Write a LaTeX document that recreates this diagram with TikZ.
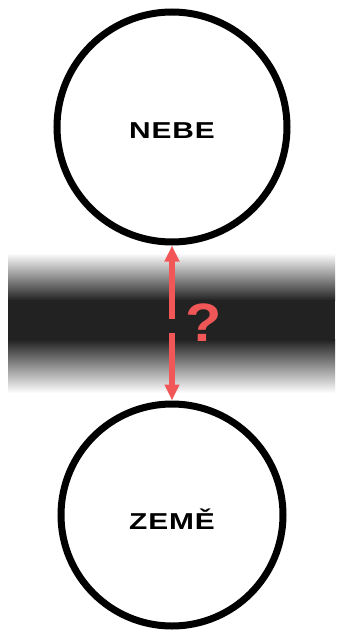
\documentclass[tikz,border=0pt]{standalone}
\usepackage{fontspec}
\usepackage{tikz}
\usetikzlibrary{arrows.meta, positioning}

\newfontfamily\labelfont{Liberation Sans}[FakeStretch=1.3, LetterSpace=4]
\newfontfamily\markfont{Liberation Sans}[FakeStretch=1.1]
\definecolor{qred}{HTML}{F25757}
\definecolor{bandgray}{HTML}{222222}

\begin{document}
\begin{tikzpicture}[
        x=1pt, y=-1pt,            % one unit = one pixel, y downwards
        world/.style={            % the two big circles
            circle,
            draw=black,
            line width=7pt,
            fill=white,
            inner sep=0pt
        },
        worldtext/.style={        % labels inside the circles
            font=\labelfont\bfseries\fontsize{23}{27}\selectfont,
            anchor=base
        },
        qarrow/.style={           % red arrow halves
            draw=qred,
            line width=6pt,
            -{Triangle[length=16pt, width=14pt]}
        },
        qmark/.style={            % the question mark
            font=\markfont\bfseries\fontsize{54}{60}\selectfont,
            text=qred,
            inner sep=0pt
        }
    ]

    \useasboundingbox (0,0) rectangle (337,631);
    \fill[white] (0,0) rectangle (337,631);

    % --- Dark band ---
    \shade[top color=white, bottom color=bandgray] (8,253) rectangle (335,300.5);
    \fill[bandgray] (8,300) rectangle (335,340);
    \shade[top color=bandgray, bottom color=white] (8,339.5) rectangle (335,393);

    % --- Circles ---
    \node[world, minimum size=230pt] (nebe) at (172,127) {};
    \node[world, minimum size=222pt] (zeme) at (172,515) {};

    \node[worldtext] (nebetext) at ([yshift=-12pt]nebe.center) {NEBE};
    \node[worldtext] (zemetext) at ([yshift=-14pt]zeme.center) {ZEMĚ};

    % --- Arrow with a gap ---
    \coordinate (gaptop) at (172,319);
    \coordinate (gapbot) at (172,333);
    \draw[qarrow] (gaptop) -- (nebe.south);
    \draw[qarrow] (gapbot) -- (zeme.north);

    \node[qmark] (question) at (204,323) {?};

\end{tikzpicture}
\end{document}
